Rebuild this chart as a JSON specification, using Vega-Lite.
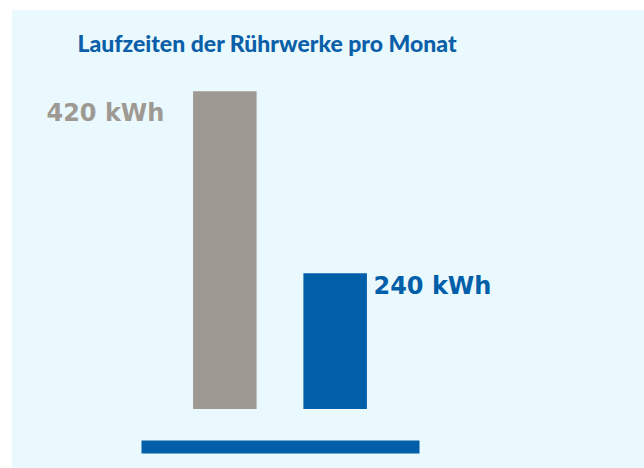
{
  "$schema": "https://vega.github.io/schema/vega-lite/v6.json",
  "width": 632,
  "height": 458,
  "autosize": {"type": "none"},
  "padding": {"left": 12, "top": 10, "right": 0, "bottom": 0},
  "background": "#ffffff",
  "config": {"view": {"fill": "#e9f9fe", "stroke": null}},
  "title": {
    "text": "Laufzeiten der Rührwerke pro Monat",
    "font": "Lato",
    "fontSize": 23,
    "fontWeight": 900,
    "color": "#0b5fa8",
    "anchor": "middle",
    "dx": -61,
    "offset": -47
  },
  "data": {
    "values": [
      {"kategorie": "Vorher", "kWh": 420, "label": "420 kWh"},
      {"kategorie": "Nachher", "kWh": 240, "label": "240 kWh"}
    ]
  },
  "encoding": {
    "x": {
      "field": "kategorie",
      "type": "nominal",
      "sort": ["Vorher", "Nachher"],
      "scale": {"range": [129, 407], "paddingInner": 0.424, "paddingOuter": 0.472},
      "axis": {
        "orient": "bottom",
        "offset": -21.5,
        "domainWidth": 13,
        "domainColor": "#005fa8",
        "domainCap": "butt",
        "labels": false,
        "ticks": false,
        "grid": false,
        "title": null
      }
    },
    "y": {
      "field": "kWh",
      "type": "quantitative",
      "scale": {"domain": [47.4, 500.4], "zero": false, "nice": false},
      "axis": null
    },
    "color": {
      "field": "kategorie",
      "type": "nominal",
      "scale": {"domain": ["Vorher", "Nachher"], "range": ["#9e9a93", "#005fa8"]},
      "legend": null
    }
  },
  "layer": [
    {
      "mark": {"type": "bar", "width": {"band": 1}},
      "encoding": {"y2": {"datum": 105.8}}
    },
    {
      "transform": [{"filter": "datum.kategorie === 'Vorher'"}],
      "mark": {
        "type": "text",
        "font": "DejaVu Sans",
        "fontWeight": "bold",
        "fontSize": 24,
        "align": "right",
        "baseline": "alphabetic",
        "dx": -60.4,
        "dy": 29.4
      },
      "encoding": {"text": {"field": "label"}}
    },
    {
      "transform": [{"filter": "datum.kategorie === 'Nachher'"}],
      "mark": {
        "type": "text",
        "font": "DejaVu Sans",
        "fontWeight": "bold",
        "fontSize": 24,
        "align": "left",
        "baseline": "alphabetic",
        "dx": 38.3,
        "dy": 20.7
      },
      "encoding": {"text": {"field": "label"}}
    }
  ]
}
